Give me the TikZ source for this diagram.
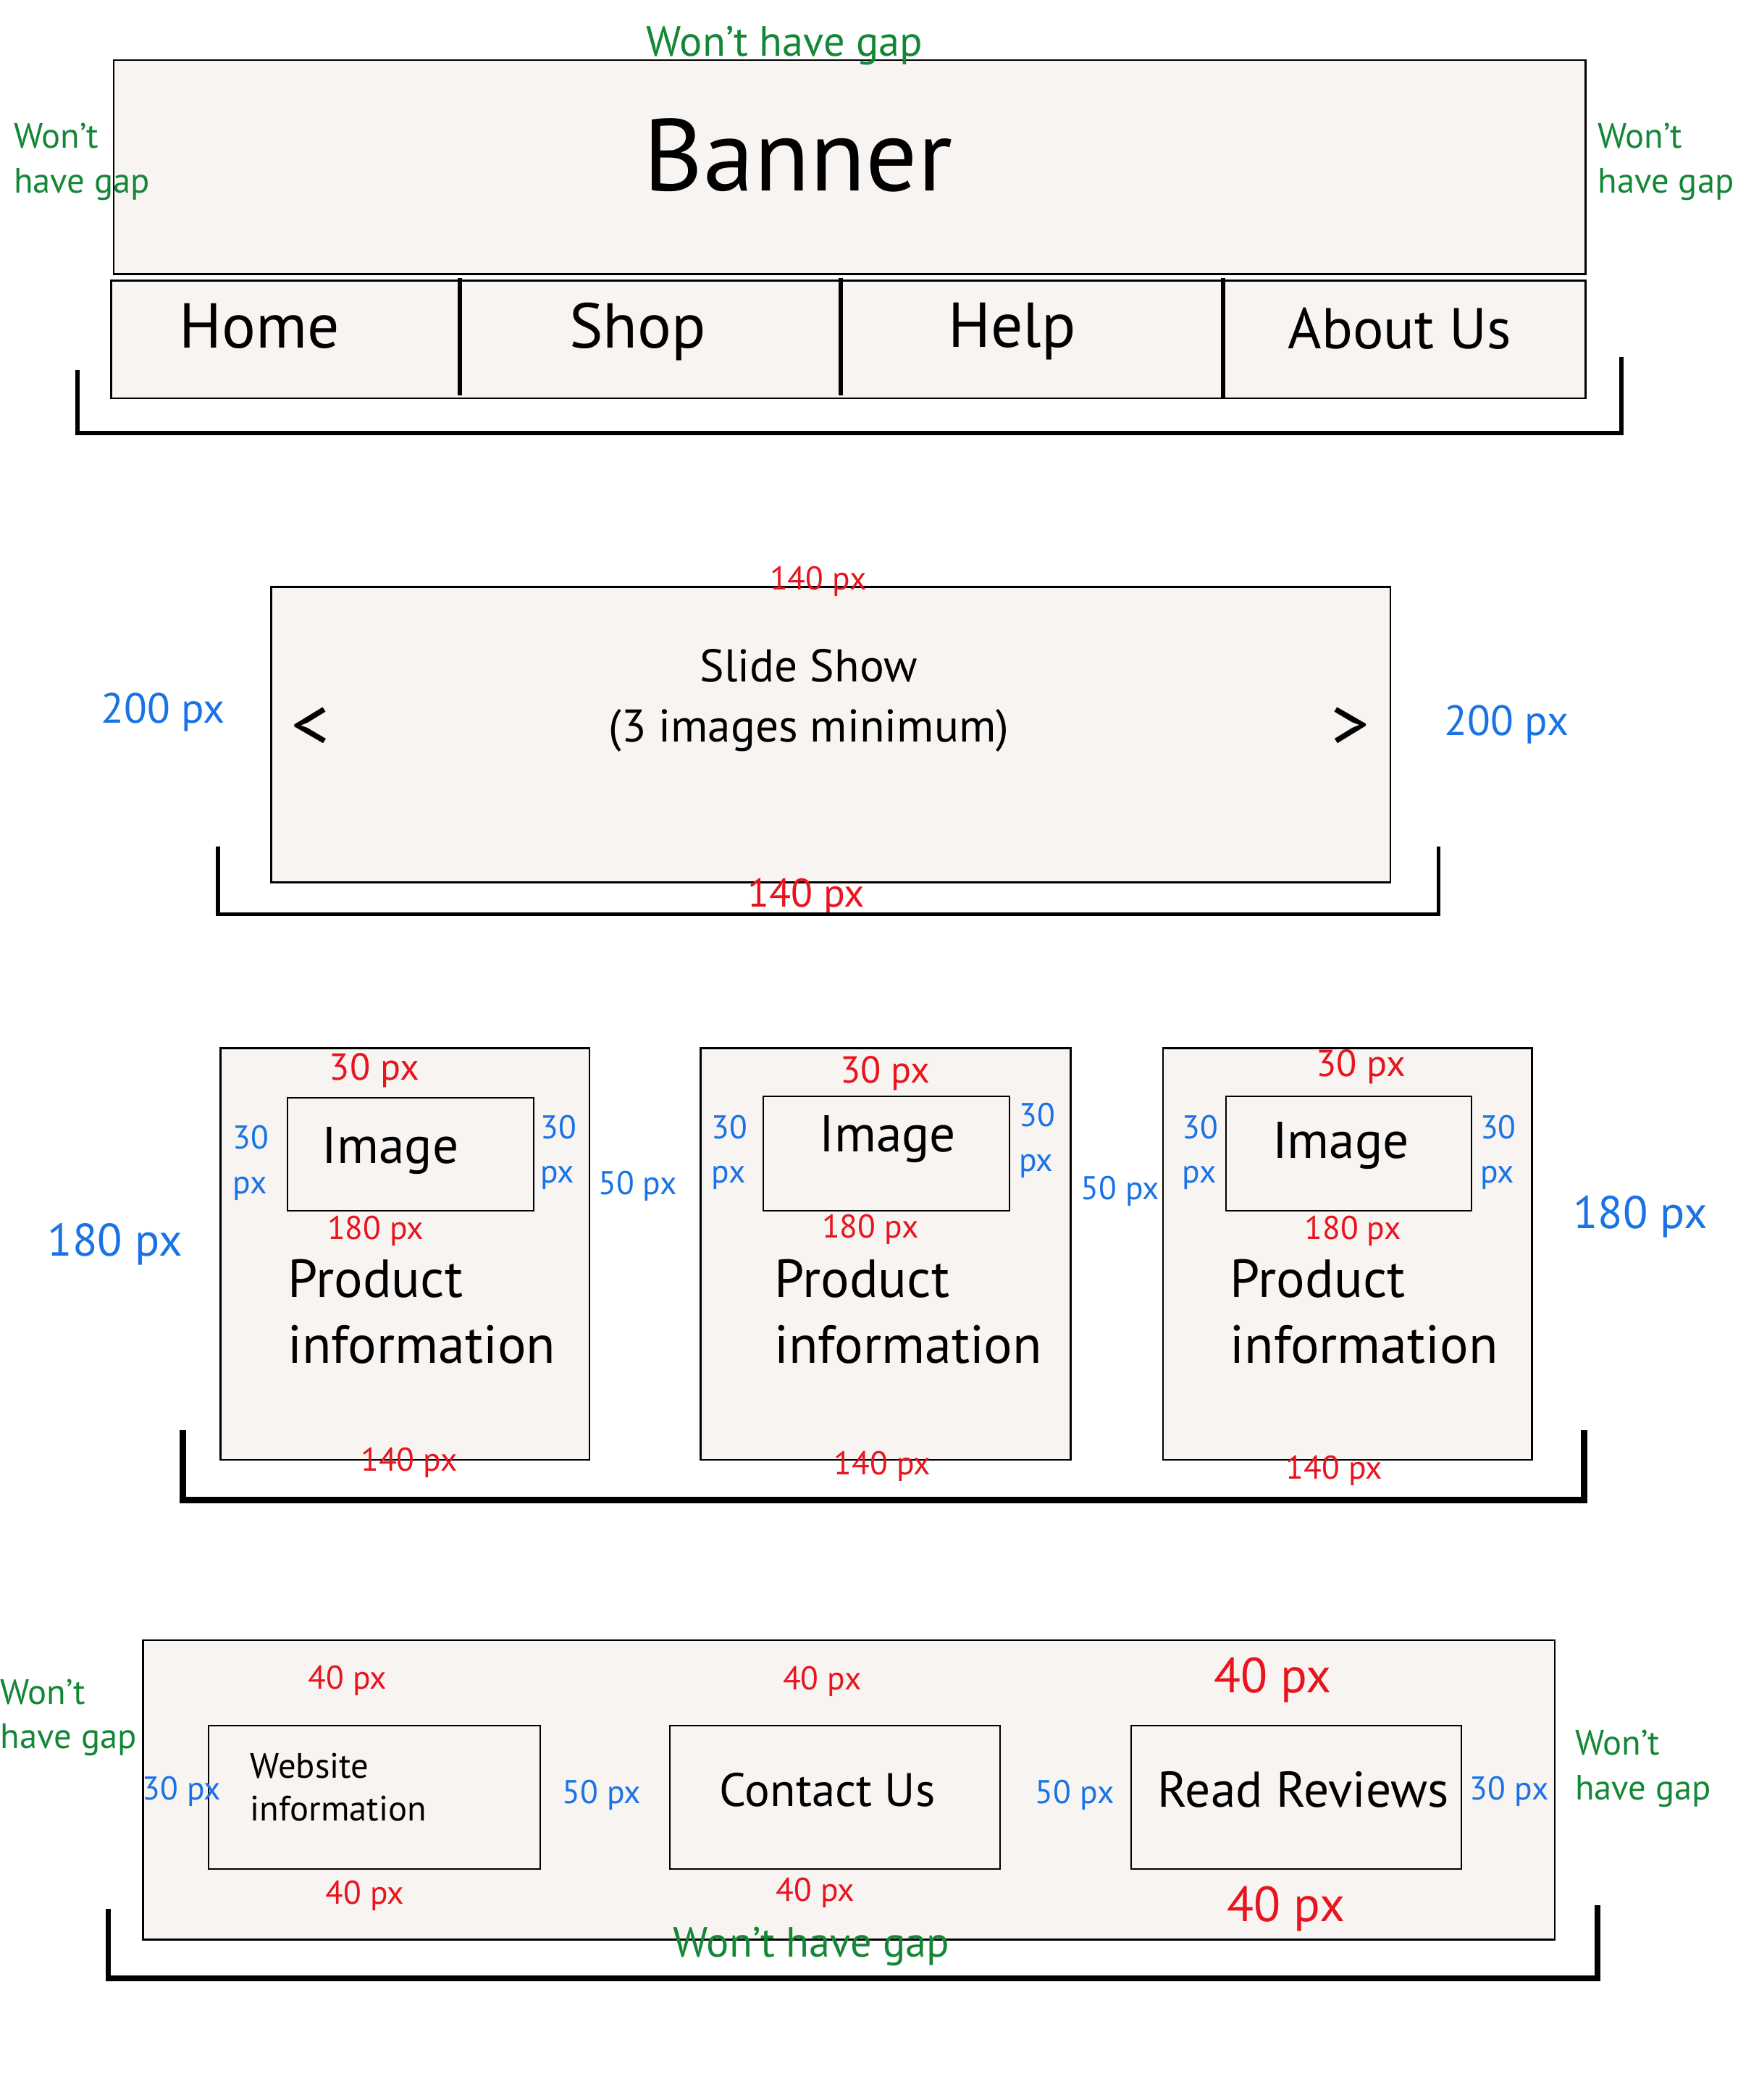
\documentclass[tikz,border=0pt]{standalone}
\usepackage{fontspec}
\setmainfont{PT Sans}
\definecolor{boxfill}{RGB}{247,244,242}
\definecolor{gapgreen}{RGB}{20,135,55}
\definecolor{pxblue}{RGB}{25,115,230}
\definecolor{pxred}{RGB}{232,20,30}
\newcommand{\fs}[1]{\fontsize{#1}{1.2\dimexpr#1pt\relax}\selectfont}
\tikzset{
  panel/.style={draw=black, fill=boxfill, line width=0.8pt},
  innerbox/.style={draw=black, line width=0.6pt},
  divider/.style={line width=1.7pt},
  bracket/.style={line width=1.7pt},
  gaptext/.style={text=gapgreen, inner sep=0pt, align=left, font=\fontsize{15}{19}\selectfont},
  gapwide/.style={text=gapgreen, inner sep=0pt, font=\fs{18}},
  redpx/.style={text=pxred, inner sep=0pt, font=\fs{#1}},
  bluepx/.style={text=pxblue, inner sep=0pt, align=left, font=\fontsize{#1}{19}\selectfont},
  label/.style={inner sep=0pt, align=left, font=\fs{#1}},
  infotext/.style={inner sep=0pt, align=left, font=\fontsize{22.8}{28}\selectfont},
}
\begin{document}
\begin{tikzpicture}[x=0.02cm, y=-0.02cm]
\useasboundingbox (0,0) rectangle (1300,1571);

%%%%% HEADER %%%%%
\draw[panel] (85,45) rectangle (1186,205);
\node[label=43.5] (banner) at (597,116) {Banner};
\draw[panel] (83,210) rectangle (1186,298);
\draw[divider] (344,208) -- (344,296);
\draw[divider] (629,208) -- (629,296);
\draw[divider] (915,208) -- (915,298);
\node[label=27] (home) at (194,244) {Home};
\node[label=27] (shop) at (477,248) {Shop};
\node[label=27] (help) at (757,248) {Help};
\node[label=24.5] (about) at (1047,246) {About Us};

\node[gapwide] (gaptop) at (587,34) {Won’t have gap};
\node[gaptext, anchor=west] (gapleft) at (10,121) {Won’t\\have gap};
\node[gaptext, anchor=west] (gapright) at (1195,121) {Won’t\\have gap};
\draw[bracket] (58,277) -- (58,324) -- (1213,324) -- (1213,267);

%%%%% SLIDE SHOW %%%%%
\draw[panel] (203,439) rectangle (1040,660);
\node[label=19.5, align=center] (slide) at (605,524) {Slide Show\\[2pt](3 images minimum)};
\node[label=32] (prev) at (232,545) {<};
\node[label=32] (next) at (1010,545) {>};
\node[redpx=14] (slidetop) at (612,435) {140 px};
\node[redpx=17] (slidebot) at (603,671) {140 px};
\node[bluepx=18] (slideleft) at (122,533) {200 px};
\node[bluepx=18] (slideright) at (1127,542) {200 px};
\draw[bracket] (163,633) -- (163,684) -- (1076,684) -- (1076,633);

%%%%% PRODUCTS %%%%%
\draw[panel] (165,784) rectangle (441,1092);
\draw[panel] (524,784) rectangle (801,1092);
\draw[panel] (870,784) rectangle (1146,1092);
\draw[innerbox] (215,821) rectangle (399,906);
\draw[innerbox] (571,820) rectangle (755,906);
\draw[innerbox] (917,820) rectangle (1101,906);
\node[label=22] (imga) at (292,861) {Image};
\node[label=22] (imgb) at (664,852) {Image};
\node[label=22] (imgc) at (1003,857) {Image};
\node[infotext, anchor=west] (infoa) at (215,981) {Product\\information};
\node[infotext, anchor=west] (infob) at (579,981) {Product\\information};
\node[infotext, anchor=west] (infoc) at (920,981) {Product\\information};

\node[redpx=16] (topa) at (280,801) {30 px};
\node[redpx=16] (topb) at (662,803) {30 px};
\node[redpx=16] (topc) at (1018,798) {30 px};
\node[redpx=14] (mida) at (281,921) {180 px};
\node[redpx=14] (midb) at (651,920) {180 px};
\node[redpx=14] (midc) at (1012,921) {180 px};
\node[redpx=14] (bota) at (306,1094) {140 px};
\node[redpx=14] (botb) at (660,1097) {140 px};
\node[redpx=14] (botc) at (998,1100) {140 px};

\node[bluepx=14, anchor=west] (lefta) at (174,870) {30\\px};
\node[bluepx=14, anchor=west] (righta) at (404,862) {30\\px};
\node[bluepx=14, anchor=west] (leftb) at (532,862) {30\\px};
\node[bluepx=14, anchor=west] (rightb) at (762,853) {30\\px};
\node[bluepx=14, anchor=west] (leftc) at (884,862) {30\\px};
\node[bluepx=14, anchor=west] (rightc) at (1107,862) {30\\px};
\node[bluepx=14] (gapab) at (477,887) {50 px};
\node[bluepx=14] (gapbc) at (838,891) {50 px};
\node[bluepx=19.5] (prodleft) at (86,931) {180 px};
\node[bluepx=19.5] (prodright) at (1227,910) {180 px};
\draw[line width=2.8pt] (137,1070) -- (137,1122) -- (1185,1122) -- (1185,1070);

%%%%% FOOTER %%%%%
\draw[panel] (107,1227) rectangle (1163,1451);
\draw[innerbox] (156,1291) rectangle (404,1398);
\draw[innerbox] (501,1291) rectangle (748,1398);
\draw[innerbox] (846,1291) rectangle (1093,1398);
\node[label=15, anchor=west] (website) at (187,1337) {Website\\information};
\node[label=20] (contact) at (619,1339) {Contact Us};
\node[label=21.4] (reviews) at (975,1339) {Read Reviews};

\node[redpx=14] (fta) at (260,1257) {40 px};
\node[redpx=14] (ftb) at (615,1258) {40 px};
\node[redpx=21] (ftc) at (952,1257) {40 px};
\node[redpx=14] (fba) at (273,1418) {40 px};
\node[redpx=14] (fbb) at (610,1416) {40 px};
\node[redpx=21] (fbc) at (962,1428) {40 px};
\node[bluepx=14] (fleft) at (136,1340) {30 px};
\node[bluepx=14] (fright) at (1129,1340) {30 px};
\node[bluepx=14] (fgapab) at (450,1343) {50 px};
\node[bluepx=14] (fgapbc) at (804,1343) {50 px};

\node[gaptext, anchor=west] (footleft) at (0,1285) {Won’t\\have gap};
\node[gaptext, anchor=west] (footright) at (1178,1323) {Won’t\\have gap};
\node[gapwide] (footbot) at (607,1456) {Won’t have gap};
\draw[line width=2.3pt] (81,1428) -- (81,1480) -- (1195,1480) -- (1195,1425);
\end{tikzpicture}
\end{document}
